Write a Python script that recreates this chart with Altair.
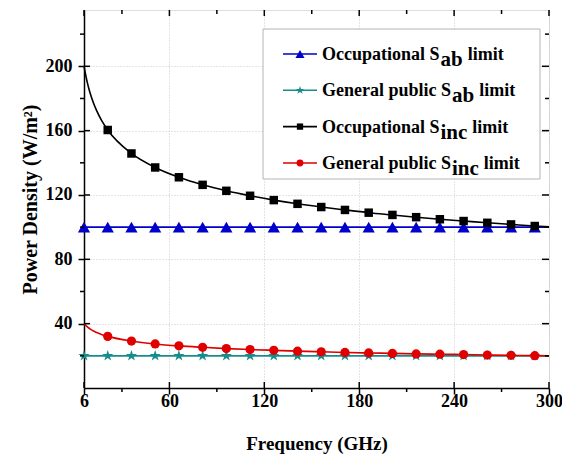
import altair as alt
import pandas as pd

# ---------------- data ----------------
line_freq = [6, 7, 8, 9, 10, 12, 14, 17, 21, 36, 51, 66, 81, 96, 111, 126, 141, 156,
             171, 186, 201, 216, 231, 246, 261, 276, 291, 300]
occ_sinc = [200.3, 194.9, 190.3, 186.4, 183.0, 177.2, 172.4, 166.5, 160.4, 145.8, 137.1,
            131.0, 126.3, 122.6, 119.5, 116.8, 114.5, 112.5, 110.7, 109.0, 107.6, 106.2,
            104.9, 103.8, 102.7, 101.7, 100.7, 100.2]
gp_sinc = [40.1, 39.0, 38.1, 37.3, 36.6, 35.4, 34.5, 33.3, 32.1, 29.2, 27.4, 26.2, 25.3,
           24.5, 23.9, 23.4, 22.9, 22.5, 22.1, 21.8, 21.5, 21.2, 21.0, 20.8, 20.5, 20.3,
           20.1, 20.0]
occ_sab = 100
gp_sab = 20
sab_freq = [6, 300]
marker_freq = [6, 21, 36, 51, 66, 81, 96, 111, 126, 141, 156, 171, 186, 201, 216, 231,
               246, 261, 276, 291]

x_major = [6, 60, 120, 180, 240, 300]
x_minor = [30, 90, 150, 210, 270]
y_major = [40, 80, 120, 160, 200]
y_minor = [20, 60, 100, 140, 180, 220]

series = ["Occupational Sab", "General public Sab", "Occupational Sinc", "General public Sinc"]
legend_main = ["Occupational S", "General public S", "Occupational S", "General public S"]
legend_sub = ["ab", "ab", "inc", "inc"]
colors = ["#0000cd", "#178c8c", "#000000", "#e00000"]
STAR = ("M0,-1L0.2245,-0.309L0.9511,-0.309L0.3633,0.118L0.5878,0.809L0,0.382"
        "L-0.5878,0.809L-0.3633,0.118L-0.9511,-0.309L-0.2245,-0.309Z")
shapes = ["triangle-up", STAR, "square", "circle"]
sizes = [150, 140, 72, 85]

# ---------------- tables ----------------
rows = []
for f in sab_freq:
    rows.append({"s": series[0], "f": f, "p": occ_sab})
    rows.append({"s": series[1], "f": f, "p": gp_sab})
for f, a, b in zip(line_freq, occ_sinc, gp_sinc):
    rows.append({"s": series[2], "f": f, "p": a})
    rows.append({"s": series[3], "f": f, "p": b})
line_df = pd.DataFrame(rows)

occ_lookup = dict(zip(line_freq, occ_sinc))
gp_lookup = dict(zip(line_freq, gp_sinc))
mrows = []
for f in marker_freq:
    mrows.append({"s": series[0], "f": f, "p": occ_sab})
    mrows.append({"s": series[1], "f": f, "p": gp_sab})
for f in marker_freq[1:]:
    mrows.append({"s": series[2], "f": f, "p": occ_lookup[f]})
    mrows.append({"s": series[3], "f": f, "p": gp_lookup[f]})
mark_df = pd.DataFrame(mrows)

W, H = 465, 378
FONT = "Liberation Serif"
xs = alt.Scale(domain=[6, 300], nice=False, zero=False)
ys = alt.Scale(domain=[0, 235], nice=False, zero=False)

x_axis = alt.Axis(values=x_major, title="Frequency (GHz)", grid=True, gridColor="#c8c8c8",
                  gridDash=[1, 2], gridWidth=1, tickSize=6, tickColor="black", tickWidth=1.5,
                  domainColor="black", domainWidth=1.5, labelFont=FONT, labelFontSize=18,
                  labelFontWeight="bold", labelColor="black", labelFlush=False,
                  labelOverlap=False, labelPadding=12, labelBaseline="alphabetic",
                  format="d", titleFont=FONT, titleFontSize=19, titleFontWeight="bold",
                  titleColor="black", titleBaseline="alphabetic", titleY=61)
y_axis = alt.Axis(values=y_major, title="Power Density (W/m²)", grid=True, gridColor="#c8c8c8",
                  gridDash=[1, 2], gridWidth=1, tickSize=6, tickColor="black", tickWidth=1.5,
                  domainColor="black", domainWidth=1.5, labelFont=FONT, labelFontSize=18,
                  labelFontWeight="bold", labelColor="black", labelFlush=False,
                  labelOverlap=False, labelPadding=6, format="d", titleFont=FONT,
                  titleFontSize=20, titleFontWeight="bold", titleColor="black",
                  titleBaseline="alphabetic", titleX=-48)

color_scale = alt.Scale(domain=series, range=colors)

lines = alt.Chart(line_df).mark_line(strokeWidth=1.6, interpolate="monotone").encode(
    x=alt.X("f:Q", scale=xs, axis=x_axis),
    y=alt.Y("p:Q", scale=ys, axis=y_axis),
    color=alt.Color("s:N", scale=color_scale, legend=None),
    detail="s:N",
)

point_layers = []
for i in range(4):
    point_layers.append(
        alt.Chart(mark_df).transform_filter(alt.datum.s == series[i]).mark_point(
            filled=True, opacity=1, shape=shapes[i], size=sizes[i], color=colors[i]
        ).encode(x=alt.X("f:Q", scale=xs), y=alt.Y("p:Q", scale=ys)))

xmaj = pd.DataFrame({"f": x_major})
xmin = pd.DataFrame({"f": x_minor})
ymaj = pd.DataFrame({"p": y_major})
ymin = pd.DataFrame({"p": y_minor})


def xt(df, y0, y1):
    return alt.Chart(df).mark_rule(color="black", strokeWidth=1.5).encode(
        x=alt.X("f:Q", scale=xs), y=alt.value(y0), y2=alt.value(y1))


def yt(df, x0, x1):
    return alt.Chart(df).mark_rule(color="black", strokeWidth=1.5).encode(
        y=alt.Y("p:Q", scale=ys), x=alt.value(x0), x2=alt.value(x1))


ticks = [
    xt(xmaj, H, H - 6), xt(xmin, H, H + 4), xt(xmaj, 0, 6), xt(xmin, 0, 4),
    yt(ymaj, 0, 6), yt(ymin, 0, -4), yt(ymaj, W, W - 7), yt(ymin, W, W - 4),
]

# ---------------- custom legend (with subscripts) ----------------
TB = {' ': 250, 'a': 500, 'b': 556, 'c': 444, 'e': 444, 'i': 278, 'l': 278, 'm': 833,
      'n': 556, 'o': 500, 'p': 556, 'r': 444, 't': 333, 'u': 556, 'S': 556, 'G': 778,
      'O': 778}


def tw(s, size):
    return sum(TB.get(ch, 500) for ch in s) * size / 1000.0


one = pd.DataFrame({"k": [0]})
legend_layers = [
    alt.Chart(one).mark_rect(fill="white", stroke="#b4b4b4", strokeWidth=1).encode(
        x=alt.value(179), x2=alt.value(456), y=alt.value(19), y2=alt.value(169))
]
row_base = [50, 86.3, 122.6, 159]
TX = 238
for i in range(4):
    base = row_base[i]
    ly = base - 6
    legend_layers.append(
        alt.Chart(one).mark_rule(color=colors[i], strokeWidth=1.6).encode(
            x=alt.value(199), x2=alt.value(233), y=alt.value(ly)))
    legend_layers.append(
        alt.Chart(one).mark_point(shape=shapes[i], filled=True, opacity=1, color=colors[i],
                                  size=sizes[i] * 0.55).encode(
            x=alt.value(216), y=alt.value(ly)))
    sx = TX + tw(legend_main[i], 18) + 1
    tx = sx + tw(legend_sub[i], 21) + 5
    for txt, xx, yy, fs in [(legend_main[i], TX, base, 18), (legend_sub[i], sx, base + 6, 21),
                            (" limit", tx, base, 18)]:
        legend_layers.append(
            alt.Chart(one).mark_text(text=txt, align="left", baseline="alphabetic", font=FONT,
                                     fontSize=fs, fontWeight="bold", color="black").encode(
                x=alt.value(xx), y=alt.value(yy)))

chart = alt.layer(lines, *point_layers, *ticks, *legend_layers).properties(
    width=W, height=H,
    autosize=alt.AutoSizeParams(type="none"),
    padding={"left": 76, "top": 2, "right": 13, "bottom": 66},
).configure_view(stroke="black", strokeWidth=1.5).configure(background="white")

chart.save("out.html", embed_options={"renderer": "svg", "actions": False})
